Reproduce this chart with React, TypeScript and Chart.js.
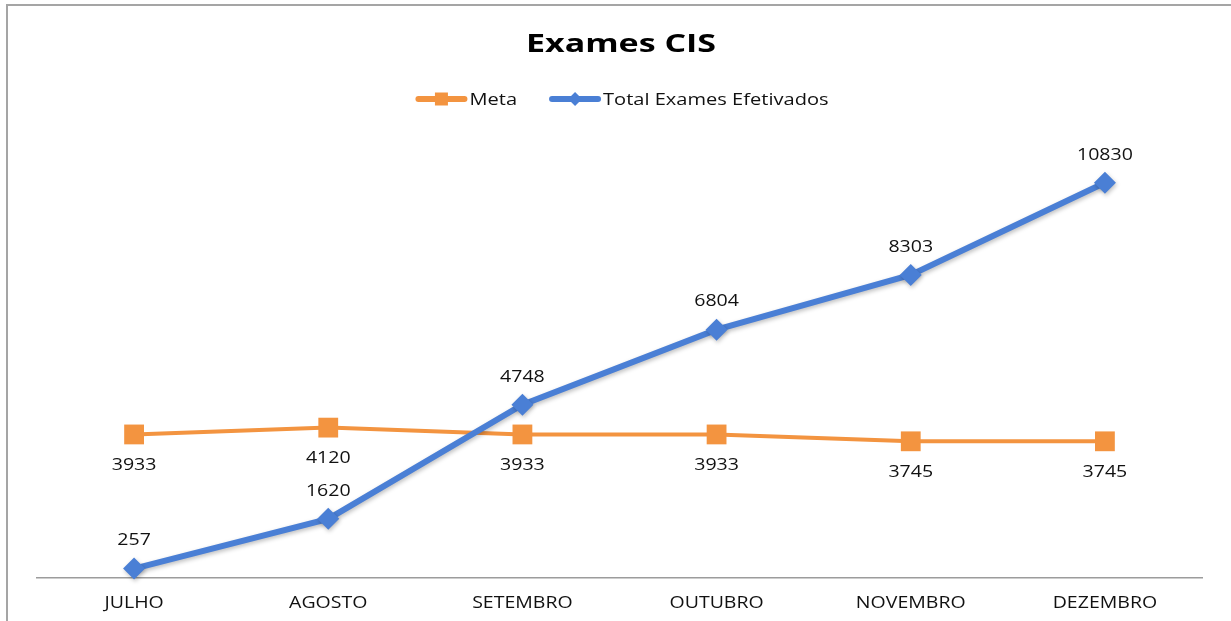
import React, { useEffect, useRef } from "react";
import { Chart, registerables } from "chart.js";

Chart.register(...registerables);

const chartTitle = "Exames CIS";
const categories = ["JULHO", "AGOSTO", "SETEMBRO", "OUTUBRO", "NOVEMBRO", "DEZEMBRO"];
const seriesLabels = ["Meta", "Total Exames Efetivados"];
const metaValues = [3933, 4120, 3933, 3933, 3745, 3745];
const totalValues = [257, 1620, 4748, 6804, 8303, 10830];

const ORANGE = "#F39440";
const BLUE = "#4A7FD5";
const FONT = "'Open Sans', 'DejaVu Sans', sans-serif";
const W = 1231;
const H = 621;

function drawMarker(ctx: CanvasRenderingContext2D, kind: string, x: number, y: number, r: number, color: string) {
  ctx.fillStyle = color;
  ctx.beginPath();
  if (kind === "rect") {
    ctx.rect(x - r, y - r, 2 * r, 2 * r);
  } else {
    ctx.moveTo(x, y - r);
    ctx.lineTo(x + r, y);
    ctx.lineTo(x, y + r);
    ctx.lineTo(x - r, y);
    ctx.closePath();
  }
  ctx.fill();
}

function textScaled(ctx: CanvasRenderingContext2D, text: string, x: number, y: number, sx: number) {
  ctx.save();
  ctx.translate(x, y);
  ctx.scale(sx, 1);
  ctx.fillText(text, 0, 0);
  ctx.restore();
}

const shadowPlugin = {
  id: "pointShadow",
  beforeDatasetDraw(chart: any, args: any) {
    if (args.index === 1) {
      const ctx: CanvasRenderingContext2D = chart.ctx;
      ctx.save();
      ctx.shadowColor = "rgba(0,0,0,0.25)";
      ctx.shadowBlur = 4;
      ctx.shadowOffsetX = 1;
      ctx.shadowOffsetY = 2;
    }
  },
  afterDatasetDraw(chart: any, args: any) {
    if (args.index === 1) chart.ctx.restore();
  },
};

const overlayPlugin = {
  id: "overlay",
  afterDatasetsDraw(chart: any) {
    const ctx: CanvasRenderingContext2D = chart.ctx;
    ctx.save();
    ctx.textAlign = "center";
    ctx.textBaseline = "middle";

    // data labels
    ctx.fillStyle = "#111";
    ctx.font = `17px ${FONT}`;
    chart.data.datasets.forEach((ds: any, i: number) => {
      const meta = chart.getDatasetMeta(i);
      meta.data.forEach((pt: any, j: number) => {
        const dy = i === 0 ? 31 : -28;
        textScaled(ctx, String(ds.data[j]), pt.x, pt.y + dy, 1.15);
      });
    });

    // x category labels
    ctx.font = `16px ${FONT}`;
    const xs = chart.scales.x;
    chart.data.labels.forEach((lab: string, i: number) => {
      textScaled(ctx, lab, xs.getPixelForTick(i), 603, 1.22);
    });

    // title
    ctx.fillStyle = "#000";
    ctx.font = `bold 25px ${FONT}`;
    textScaled(ctx, chartTitle, 621, 45, 1.36);

    // legend
    ctx.font = `17px ${FONT}`;
    ctx.textAlign = "left";
    const lsx = 1.18;
    const sample = 52;
    const gapText = 2;
    const gapItem = 32;
    const items = chart.data.datasets.map((ds: any) => ({
      label: ds.label,
      color: ds.borderColor,
      kind: ds.pointStyle === "rect" ? "rect" : "diamond",
      tw: ctx.measureText(ds.label).width * lsx,
    }));
    let total = 0;
    items.forEach((it: any, k: number) => {
      total += sample + gapText + it.tw + (k < items.length - 1 ? gapItem : 0);
    });
    let x = 622 - total / 2;
    const ly = 99;
    items.forEach((it: any) => {
      ctx.strokeStyle = it.color;
      ctx.lineWidth = 6;
      ctx.lineCap = "round";
      ctx.beginPath();
      ctx.moveTo(x + 3, ly);
      ctx.lineTo(x + sample - 3, ly);
      ctx.stroke();
      drawMarker(ctx, it.kind, x + sample / 2, ly, it.kind === "rect" ? 6.5 : 7, it.color);
      ctx.fillStyle = "#111";
      textScaled(ctx, it.label, x + sample + gapText, ly + 1, lsx);
      x += sample + gapText + it.tw + gapItem;
    });
    ctx.restore();
  },
};

export default function App() {
  const ref = useRef<HTMLCanvasElement | null>(null);

  useEffect(() => {
    if (!ref.current) return;
    const chart = new Chart(ref.current, {
      type: "line",
      data: {
        labels: categories,
        datasets: [
          {
            label: seriesLabels[0],
            data: metaValues,
            borderColor: ORANGE,
            backgroundColor: ORANGE,
            borderWidth: 4,
            pointStyle: "rect",
            pointRadius: 14,
            pointBorderWidth: 0,
            pointBackgroundColor: ORANGE,
            tension: 0,
            clip: false as any,
            order: 1,
          },
          {
            label: seriesLabels[1],
            data: totalValues,
            borderColor: BLUE,
            backgroundColor: BLUE,
            borderWidth: 6,
            pointStyle: "rectRot",
            pointRadius: 11,
            pointBorderWidth: 0,
            pointBackgroundColor: BLUE,
            tension: 0,
            clip: false as any,
            order: 0,
          },
        ],
      },
      options: {
        responsive: false,
        animation: false,
        layout: { padding: { top: 140, left: 37, right: 29, bottom: 0 } },
        plugins: {
          legend: { display: false },
          title: { display: false },
          tooltip: { enabled: false },
        },
        scales: {
          x: {
            offset: true,
            grid: { display: false, drawTicks: false },
            border: { display: true, color: "#9c9c9c", width: 1.5 },
            ticks: { display: false },
            afterFit: (scale: any) => {
              scale.height = 43;
            },
          },
          y: {
            display: false,
            min: 0,
            max: 12000,
          },
        },
      },
      plugins: [shadowPlugin, overlayPlugin],
    });
    return () => chart.destroy();
  }, []);

  return (
    <div style={{ position: "absolute", left: 0, top: 0, width: W, height: H, overflow: "hidden", background: "#fff" }}>
      <div
        style={{
          position: "absolute",
          left: 6,
          top: 4,
          width: W + 20,
          height: H + 20,
          borderTop: "2px solid #a5a5a5",
          borderLeft: "2px solid #a5a5a5",
        }}
      />
      <canvas ref={ref} width={W} height={H} style={{ position: "absolute", left: 0, top: 0, width: W, height: H }} />
    </div>
  );
}
